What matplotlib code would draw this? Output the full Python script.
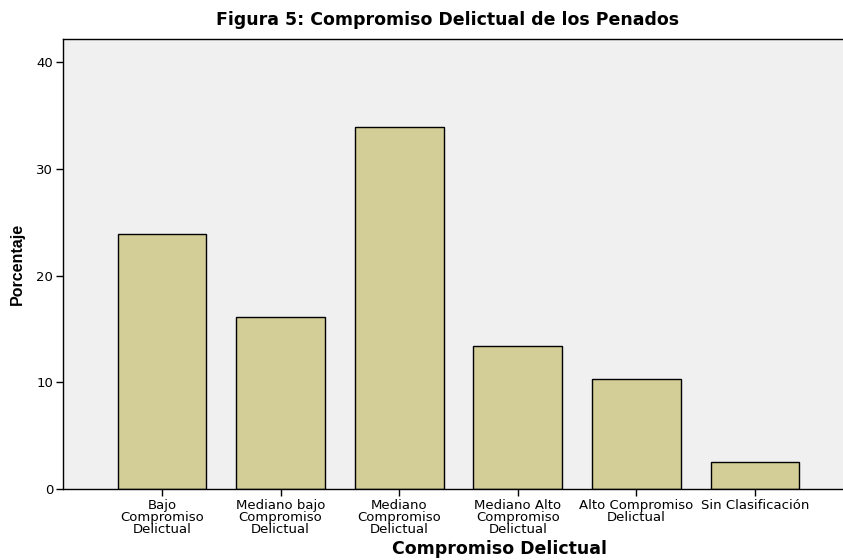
import matplotlib.pyplot as plt

plt.rcParams['font.family'] = ['DejaVu Sans']

categorias = ['Bajo\nCompromiso\nDelictual', 'Mediano bajo\nCompromiso\nDelictual',
              'Mediano\nCompromiso\nDelictual', 'Mediano Alto\nCompromiso\nDelictual',
              'Alto Compromiso\nDelictual', 'Sin Clasificación']
porcentajes = [23.9, 16.1, 33.9, 13.4, 10.3, 2.5]
y_ticks = [0, 10, 20, 30, 40]

fig = plt.figure(figsize=(8.43, 5.6), dpi=100)
ax = fig.add_axes([0.0747, 0.1268, 0.9253, 0.8036])
ax.set_facecolor('#f0f0f0')

x = list(range(len(categorias)))
ax.bar(x, porcentajes, width=0.75, color='#d3ce97', edgecolor='black', linewidth=1)

ax.set_xlim(-0.835, 5.742)
ax.set_ylim(0, 42.2)
ax.set_yticks(y_ticks)
ax.set_xticks(x)
ax.set_xticklabels(categorias, fontsize=9.5, linespacing=0.92)
ax.tick_params(axis='y', labelsize=9.5, length=5, width=1, pad=2)
ax.tick_params(axis='x', length=5, width=1, pad=2)

ax.spines['right'].set_visible(False)
for s in ['left', 'bottom', 'top']:
    ax.spines[s].set_linewidth(1)

ax.set_title('Figura 5: Compromiso Delictual de los Penados', fontsize=12.5,
             fontweight='bold', pad=10, x=0.493)
ax.set_xlabel('Compromiso Delictual', fontsize=12.5, fontweight='bold')
ax.xaxis.set_label_coords(0.559, -0.113)
ax.xaxis.label.set_va('top')
ax.set_ylabel('Porcentaje', fontsize=11.5, fontweight='bold', labelpad=8,
              family='Liberation Sans')

fig.savefig('out.png', dpi=100)
